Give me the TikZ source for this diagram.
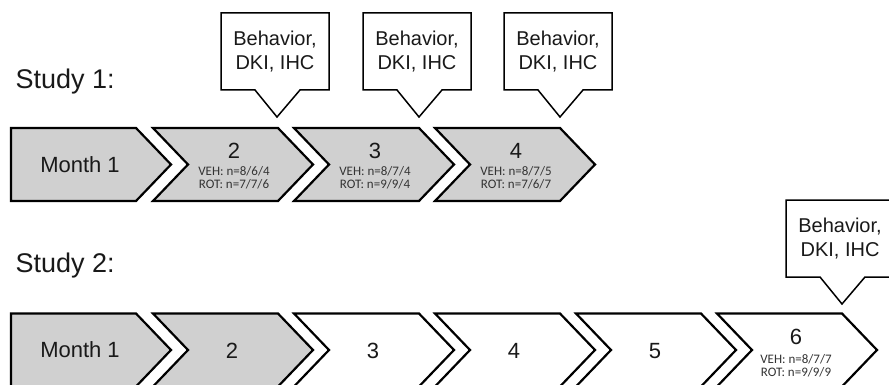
\documentclass[tikz,border=0pt]{standalone}
\usepackage{fontspec}
\setmainfont{Liberation Sans}
\newfontfamily\smallfont{Carlito}
\usetikzlibrary{calc}
\definecolor{donegray}{RGB}{208,208,208}

\tikzset{
  phase/.style={line width=2.2pt, line join=miter},
  balloon/.style={line width=1.5pt, fill=white},
  bigtext/.style={font=\fontsize{22}{24}\selectfont, text=black!90},
  studytext/.style={font=\fontsize{27}{29}\selectfont, anchor=west, text=black!90},
  notetext/.style={font=\fontsize{20}{24}\selectfont, align=center, text=black!90},
  counts/.style={font=\smallfont\fontsize{13}{12.5}\selectfont, align=center, text=black!80},
}

% chevron: left x, middle y, fill
\newcommand{\chev}[3]{%
  \draw[phase, fill=#3] (#1,#2-36.5) -- (#1+125,#2-36.5) -- (#1+160,#2)
    -- (#1+125,#2+36.5) -- (#1,#2+36.5) -- (#1+35,#2) -- cycle;}

% balloon: left x, top y, name
\newcommand{\balloon}[3]{%
  \draw[balloon] (#1,#2) -- (#1+108,#2) -- (#1+108,#2+77) -- (#1+79,#2+77)
    -- (#1+56,#2+104) -- (#1+34,#2+77) -- (#1,#2+77) -- cycle;
  \node[notetext] (#3) at (#1+54,#2+38.5) {Behavior,\\DKI, IHC};}

\begin{document}
\begin{tikzpicture}[x=1pt, y=-1pt]
    \useasboundingbox (0,0) rectangle (889,385);

    % Study 1
    \node[studytext] (study1) at (12,82) {Study 1:};

    \draw[phase, fill=donegray] (11,128) -- (136,128) -- (171,164.5)
      -- (136,201) -- (11,201) -- cycle;
    \node[bigtext] (s1m1) at (80,164.5) {Month 1};

    \chev{153}{164.5}{donegray}
    \chev{294}{164.5}{donegray}
    \chev{435}{164.5}{donegray}

    \node[bigtext] (s1m2) at (234,151) {2};
    \node[counts] (s1n2) at (234,178) {VEH: n=8/6/4\\ROT: n=7/7/6};
    \node[bigtext] (s1m3) at (375,151) {3};
    \node[counts] (s1n3) at (375,178) {VEH: n=8/7/4\\ROT: n=9/9/4};
    \node[bigtext] (s1m4) at (516,151) {4};
    \node[counts] (s1n4) at (516,178) {VEH: n=8/7/5\\ROT: n=7/6/7};

    \balloon{221}{13}{s1b2}
    \balloon{363}{13}{s1b3}
    \balloon{504}{13}{s1b4}

    % Study 2
    \node[studytext] (study2) at (12,266) {Study 2:};

    \draw[phase, fill=donegray] (11,313.5) -- (136,313.5) -- (171,350)
      -- (136,386.5) -- (11,386.5) -- cycle;
    \node[bigtext] (s2m1) at (80,350) {Month 1};

    \chev{153}{350}{donegray}
    \foreach \k in {1,...,4}
      \chev{153+141*\k}{350}{white};

    \node[bigtext] (s2m2) at (232,351) {2};
    \node[bigtext] (s2m3) at (373,351) {3};
    \node[bigtext] (s2m4) at (514,351) {4};
    \node[bigtext] (s2m5) at (655,351) {5};
    \node[bigtext] (s2m6) at (796,337) {6};
    \node[counts] (s2n6) at (796,366) {VEH: n=8/7/7\\ROT: n=9/9/9};

    \balloon{786}{200}{s2b6}

\end{tikzpicture}
\end{document}
